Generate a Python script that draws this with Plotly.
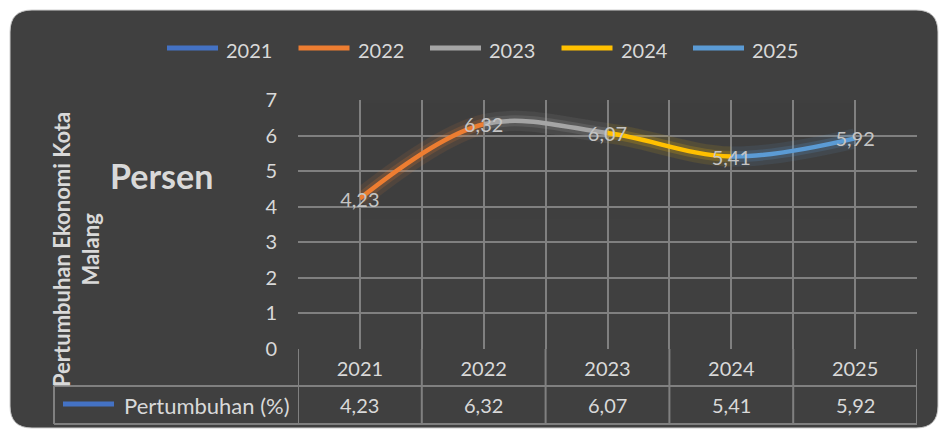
import plotly.graph_objects as go

# ---- data ----
categories = ["2021", "2022", "2023", "2024", "2025"]
growth = [4.23, 6.32, 6.07, 5.41, 5.92]
value_labels = ["4,23", "6,32", "6,07", "5,41", "5,92"]
point_colors = ["#4472C4", "#ED7D31", "#A5A5A5", "#FFC000", "#5B9BD5"]
y_ticks = [0, 1, 2, 3, 4, 5, 6, 7]
series_name = "Pertumbuhan (%)"
y_title = "Pertumbuhan Ekonomi Kota<br>Malang"
side_label = "Persen"

# ---- layout geometry ----
W, H = 939, 430
L, R, T, B = 298, 22, 100, 81
PW, PH = W - L - R, H - T - B
FONT = "Lato, 'Open Sans', sans-serif"
TXT = "#d9d9d9"
GRID = "#808080"
BG = "#404040"
Y_RANGE = [0, 7]
LABEL_DROP_PX = 3  # data labels sit slightly below the point centre


def xp(px):
    return (px - L) / PW


def yp(py):
    return (H - B - py) / PH


n = len(categories)
xs = list(range(n))

fig = go.Figure()

layout_axes = {}
# hidden y axis for the coloured segments (no duplicate grid lines)
layout_axes["yaxis2"] = dict(range=Y_RANGE, visible=False, fixedrange=True, anchor="x2")
# coloured smooth segments: each one drawn on its own hidden x-axis whose
# domain covers only that segment (same scale as main axis) so it gets clipped
for i in range(1, n):
    ax = f"x{i + 1}"
    layout_axes[f"xaxis{i + 1}"] = dict(
        domain=[(i - 1 + 0.5) / n, (i + 0.5) / n],
        range=[i - 1, i], visible=False, anchor="y2", fixedrange=True)
    col = point_colors[i]
    fig.add_trace(go.Scatter(x=xs, y=growth, xaxis=ax, yaxis="y2", mode="lines",
                             line=dict(color=col, width=20, shape="spline", smoothing=1.0),
                             opacity=0.10, hoverinfo="skip", showlegend=False))
    fig.add_trace(go.Scatter(x=xs, y=growth, xaxis=ax, yaxis="y2", mode="lines",
                             line=dict(color=col, width=11, shape="spline", smoothing=1.0),
                             opacity=0.18, hoverinfo="skip", showlegend=False))
    fig.add_trace(go.Scatter(x=xs, y=growth, xaxis=ax, yaxis="y2", mode="lines",
                             line=dict(color=col, width=4.5, shape="spline", smoothing=1.0),
                             name=categories[i], showlegend=False))

# data labels on a top-most hidden overlay subplot
lab_x = f"x{n + 1}"
shift = LABEL_DROP_PX * (Y_RANGE[1] - Y_RANGE[0]) / PH
layout_axes[f"xaxis{n + 1}"] = dict(domain=[0, 1], range=[-0.5, n - 0.5], visible=False,
                                    anchor="y3", fixedrange=True)
layout_axes["yaxis3"] = dict(range=[Y_RANGE[0] + shift, Y_RANGE[1] + shift], visible=False,
                             fixedrange=True, anchor=lab_x)
fig.add_trace(go.Scatter(x=xs, y=growth, xaxis=lab_x, yaxis="y3", mode="text",
                         text=value_labels, textposition="middle center", cliponaxis=False,
                         textfont=dict(family=FONT, size=20, color="#c4c4c4"),
                         hoverinfo="skip", showlegend=False))

shapes = []
# dark rounded background
x0, x1, y0, y1 = xp(10), xp(938), yp(428), yp(10)
rx, ry = 22 / PW, 22 / PH
path = (f"M {x0 + rx},{y1} L {x1 - rx},{y1} Q {x1},{y1} {x1},{y1 - ry} "
        f"L {x1},{y0 + ry} Q {x1},{y0} {x1 - rx},{y0} L {x0 + rx},{y0} "
        f"Q {x0},{y0} {x0},{y0 + ry} L {x0},{y1 - ry} Q {x0},{y1} {x0 + rx},{y1} Z")
shapes.append(dict(type="path", path=path, xref="paper", yref="paper",
                   fillcolor=BG, line=dict(color="#cfcfcf", width=1), layer="below"))

# data table lines
row1_bot, row2_bot, leg_left = 386, 424, 54
for py in (row1_bot, row2_bot):
    shapes.append(dict(type="line", xref="paper", yref="paper",
                       x0=xp(leg_left), x1=1, y0=yp(py), y1=yp(py),
                       line=dict(color=GRID, width=2)))
shapes.append(dict(type="line", xref="paper", yref="paper", x0=xp(leg_left), x1=xp(leg_left),
                   y0=yp(row1_bot), y1=yp(row2_bot), line=dict(color=GRID, width=2)))
for k in range(n + 1):
    shapes.append(dict(type="line", xref="x", yref="paper", x0=k - 0.5, x1=k - 0.5,
                       y0=0, y1=yp(row2_bot), line=dict(color=GRID, width=2)))
# table legend key
shapes.append(dict(type="line", xref="paper", yref="paper", x0=xp(63), x1=xp(114),
                   y0=yp(404), y1=yp(404), line=dict(color=point_colors[0], width=5)))

annotations = []
annotations.append(dict(text=series_name, xref="paper", yref="paper", x=xp(122), y=yp(405),
                        xanchor="left", yanchor="middle", showarrow=False,
                        font=dict(family=FONT, size=22, color=TXT)))
for i in range(n):
    annotations.append(dict(text=value_labels[i], xref="x", yref="paper", x=xs[i], y=yp(405),
                            xanchor="center", yanchor="middle", showarrow=False,
                            font=dict(family=FONT, size=20, color=TXT)))

# top legend (manual)
for i in range(n):
    sx = 167 + i * 131.5
    shapes.append(dict(type="line", xref="paper", yref="paper", x0=xp(sx), x1=xp(sx + 51),
                       y0=yp(48), y1=yp(48), line=dict(color=point_colors[i], width=5)))
    annotations.append(dict(text=categories[i], xref="paper", yref="paper", x=xp(sx + 57),
                            y=yp(50), xanchor="left", yanchor="middle", showarrow=False,
                            font=dict(family=FONT, size=20, color=TXT)))

# titles
annotations.append(dict(text=f"<b>{side_label}</b>", xref="paper", yref="paper",
                        x=xp(161), y=yp(175), xanchor="center", yanchor="middle",
                        showarrow=False, font=dict(family=FONT, size=34, color=TXT)))
annotations.append(dict(text=f"<b>{y_title}</b>", xref="paper", yref="paper",
                        x=xp(76), y=yp(250), xanchor="center", yanchor="middle",
                        textangle=-90, showarrow=False,
                        font=dict(family=FONT, size=22, color=TXT)))

fig.update_layout(
    width=W, height=H, margin=dict(l=L, r=R, t=T, b=B),
    paper_bgcolor="white", plot_bgcolor="rgba(0,0,0,0)",
    showlegend=False, shapes=shapes, annotations=annotations,
    font=dict(family=FONT, color=TXT),
    xaxis=dict(range=[-0.5, n - 0.5], tickvals=xs, ticktext=categories,
               showgrid=True, gridcolor=GRID, gridwidth=2, zeroline=False,
               ticks="", ticklabelstandoff=6, fixedrange=True,
               tickfont=dict(family=FONT, size=20, color=TXT),
               minor=dict(tickvals=[k - 0.5 for k in range(n + 1)], showgrid=True,
                          gridcolor=GRID, gridwidth=2)),
    yaxis=dict(range=Y_RANGE, tickvals=y_ticks, showgrid=True, gridcolor=GRID, gridwidth=2,
               zeroline=False, ticks="", ticklabelstandoff=20, fixedrange=True,
               anchor="x", tickfont=dict(family=FONT, size=20, color=TXT)),
    **layout_axes,
)

fig.write_html("out.html")
